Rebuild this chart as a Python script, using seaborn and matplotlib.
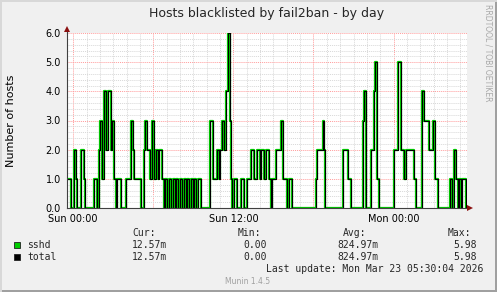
import numpy as np
import pandas as pd
import matplotlib
matplotlib.use("Agg")
import matplotlib.pyplot as plt
import seaborn as sns
from matplotlib.ticker import MultipleLocator, FuncFormatter
from matplotlib.patches import Rectangle

# ---- data (hours relative to Sun 00:00, value holds until next change) ----
change_hours = [-0.5, -0.13, 0.05, 0.20, 0.30, 0.62, 0.80, 0.89, 1.56, 1.81,
                1.92, 2.00, 2.16, 2.30, 2.45, 2.63, 2.82, 2.93, 3.08, 3.20,
                3.25, 3.57, 3.92, 4.32, 4.49, 4.55, 5.07, 5.30, 5.37, 5.54,
                5.72, 5.87, 6.02, 6.21, 6.36, 6.44, 6.68, 6.80,
                6.85, 7.02, 7.15, 7.32, 7.45, 7.62, 7.71, 7.88, 7.97, 8.15,
                8.27, 8.45, 8.54, 8.71, 8.80, 8.97, 9.06, 9.23, 9.32, 9.55,
                10.25, 10.47, 10.80, 10.94, 11.01, 11.18, 11.30, 11.42, 11.60, 11.75,
                11.85, 11.93, 12.05, 12.25, 12.55, 12.80, 13.05, 13.30, 13.55, 13.80,
                13.97, 14.05, 14.30, 14.42, 14.67, 14.80, 14.93, 15.17, 15.55, 15.72,
                16.02, 16.13, 16.41, 18.17, 18.30, 18.68, 18.80, 18.87, 20.18, 20.55,
                20.82, 21.68, 21.80, 21.95, 22.30, 22.55, 22.62, 22.75, 22.94, 24.00,
                24.30, 24.55, 24.80, 24.92, 25.55, 25.71, 26.16, 26.31, 26.67, 26.93,
                27.10, 27.30, 28.25, 28.41, 28.49, 28.55, 28.67, 28.82, 28.90, 29.08,
                29.16, 29.45, 29.5]
sshd_hosts = [1, 0, 2, 1, 0, 2, 1, 0, 1, 0,
              2, 3, 1, 4, 2, 4, 2, 3, 1, 0,
              1, 0, 1, 3, 2, 1, 0, 2, 3, 2,
              1, 3, 1, 2, 1, 2, 1, 0,
              1, 0, 1, 0, 1, 0, 1, 0, 1, 0,
              1, 0, 1, 0, 1, 0, 1, 0, 1, 0,
              3, 1, 2, 1, 2, 3, 2, 4, 6, 3,
              1, 0, 1, 0, 1, 0, 1, 2, 1, 2,
              1, 2, 1, 2, 1, 0, 1, 2, 3, 1,
              0, 1, 0, 1, 2, 3, 2, 0, 2, 1,
              0, 3, 4, 0, 2, 4, 5, 1, 0, 2,
              5, 2, 1, 2, 1, 0, 4, 3, 2, 3,
              1, 0, 1, 0, 1, 2, 1, 0, 1, 0,
              1, 0, 0]
total_hosts = list(sshd_hosts)

tick_hours = [0, 12, 24]
tick_labels = ["Sun 00:00", "Sun 12:00", "Mon 00:00"]
series_names = ["sshd", "total"]
series_colors = ["#00CC00", "#000000"]
legend_cur = ["12.57m", "12.57m"]
legend_min = ["0.00", "0.00"]
legend_avg = ["824.97m", "824.97m"]
legend_max = ["5.98", "5.98"]
title = "Hosts blacklisted by fail2ban - by day"
y_label = "Number of hosts"
last_update = "Last update: Mon Mar 23 05:30:04 2026"

# ---- style ----
sns.set_theme(style="white")
plt.rcParams["font.family"] = ["DejaVu Sans"]

W, H = 497, 292
fig = plt.figure(figsize=(W / 100, H / 100), dpi=100, facecolor="#F0F0F0")


def fx(px):
    return px / W


def fy(py):
    return 1 - py / H


L, R, T, B = 66.5, 467.0, 33.0, 208.0
ax = fig.add_axes([fx(L), fy(B), fx(R) - fx(L), fy(T) - fy(B)])
ax.set_facecolor("white")

df = pd.DataFrame({
    "hour": change_hours * 2,
    "hosts": sshd_hosts + total_hosts,
    "series": ["sshd"] * len(change_hours) + ["total"] * len(change_hours),
})
widths = {"sshd": 1.6, "total": 0.8}
for name, col in zip(series_names, series_colors):
    sns.lineplot(data=df[df["series"] == name], x="hour", y="hosts",
                 drawstyle="steps-post", color=col, lw=widths[name],
                 estimator=None, sort=False, ax=ax, legend=False, zorder=3)

ax.set_xlim(-0.5, 29.5)
ax.set_ylim(0, 6)
ax.xaxis.set_major_locator(MultipleLocator(6))
ax.xaxis.set_minor_locator(MultipleLocator(1))
ax.yaxis.set_major_locator(MultipleLocator(1))
ax.yaxis.set_minor_locator(MultipleLocator(0.2))
lab = dict(zip(tick_hours, tick_labels))
ax.xaxis.set_major_formatter(FuncFormatter(lambda v, p: lab.get(int(round(v)), "") if abs(v - round(v)) < 1e-6 else ""))
ax.yaxis.set_major_formatter(FuncFormatter(lambda v, p: f"{v:.1f}"))

ax.set_axisbelow(True)
ax.grid(which="minor", color="#D8D8D8", linestyle=(0, (1, 1)), lw=0.7)
ax.grid(which="major", color="#FF9C9C", linestyle=(0, (1, 1)), lw=0.7)

for s in ["top", "right"]:
    ax.spines[s].set_visible(False)
for s in ["left", "bottom"]:
    ax.spines[s].set_color("#404040")
    ax.spines[s].set_linewidth(0.8)
    ax.spines[s].set_zorder(4)

ax.tick_params(axis="both", which="major", length=1.5, width=0.7, color="#FF8080",
               labelsize=7, labelcolor="black", pad=2.5)
ax.tick_params(axis="both", which="minor", length=0)
ax.tick_params(axis="x", pad=2.6)

ax.set_xlabel("")
ax.set_ylabel(y_label, fontsize=8, color="black")
ax.yaxis.label.set_va("center")
ax.yaxis.set_label_coords((11.5 - L) / (R - L), 0.5)

# axis arrows
ax.plot([0, 0], [1, 1 + 3 / (B - T)], transform=ax.transAxes, color="#404040",
        lw=0.8, clip_on=False, zorder=5)
ax.plot([0], [1 + 4 / (B - T)], transform=ax.transAxes, marker="^", ms=4.5,
        color="#8B1010", clip_on=False, zorder=6, mew=0)
ax.plot([1, 1 + 2 / (R - L)], [0, 0], transform=ax.transAxes, color="#404040",
        lw=0.8, clip_on=False, zorder=5)
ax.plot([1 + 3 / (R - L)], [0], transform=ax.transAxes, marker=">", ms=4.5,
        color="#8B1010", clip_on=False, zorder=6, mew=0)

# title and side text
fig.text(fx((L + R) / 2), fy(13.5), title, ha="center", va="center", fontsize=9)
fig.text(fx(488), fy(4), "RRDTOOL / TOBI OETIKER", rotation=270, ha="center",
         va="top", fontsize=5.5, color="#A8A8A8")

# legend
mono = dict(family="DejaVu Sans Mono", fontsize=7, va="center")
for head, x0 in zip(["Cur:", "Min:", "Avg:", "Max:"], [132, 238, 343, 448]):
    fig.text(fx(x0), fy(233.3), head, ha="left", **mono)
for i, name in enumerate(series_names):
    yy = 245 + i * 11.7
    fig.patches.append(Rectangle((fx(13.5), fy(yy + 3)), 6 / W, 6 / H,
                                 transform=fig.transFigure, facecolor=series_colors[i],
                                 edgecolor="#202020", lw=0.6))
    fig.text(fx(27), fy(yy), name, ha="left", **mono)
    fig.text(fx(132), fy(yy), legend_cur[i], ha="left", **mono)
    fig.text(fx(267), fy(yy), legend_min[i], ha="right", **mono)
    fig.text(fx(378), fy(yy), legend_avg[i], ha="right", **mono)
    fig.text(fx(477), fy(yy), legend_max[i], ha="right", **mono)
fig.text(fx(483), fy(269), last_update, ha="right", **mono)
fig.text(fx(248), fy(281.7), "Munin 1.4.5", ha="center", va="center",
         fontsize=5.5, color="#A0A0A0")

# border bevel
fig.patches.append(Rectangle((1 - 2 / W, 0), 2 / W, 1, transform=fig.transFigure,
                             facecolor="#A0A0A0", edgecolor="none"))
fig.patches.append(Rectangle((0, 0), 1, 2 / H, transform=fig.transFigure,
                             facecolor="#A0A0A0", edgecolor="none"))
fig.patches.append(Rectangle((0, 0), 1.5 / W, 1, transform=fig.transFigure,
                             facecolor="#D8D8D8", edgecolor="none"))
fig.patches.append(Rectangle((0, 1 - 1.5 / H), 1, 1.5 / H, transform=fig.transFigure,
                             facecolor="#D8D8D8", edgecolor="none"))

fig.savefig("out.png", dpi=100, facecolor=fig.get_facecolor())
